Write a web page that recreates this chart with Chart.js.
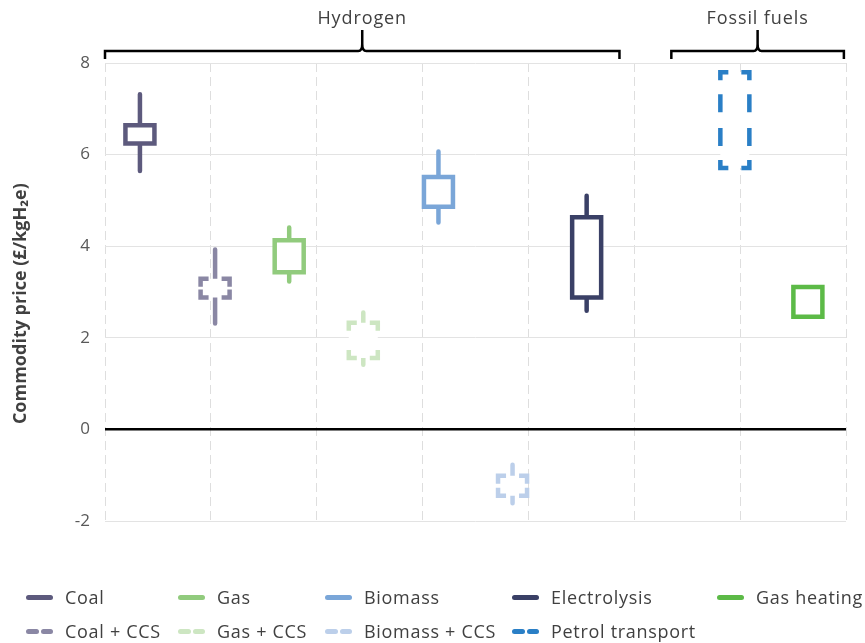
<!DOCTYPE html>
<html>
<head>
<meta charset="utf-8">
<script src="https://cdn.jsdelivr.net/npm/chart.js@4.4.1/dist/chart.umd.min.js"></script>
<style>
  html, body { margin: 0; padding: 0; background: #fff; }
  #wrap { position: relative; width: 865px; height: 643px; font-family: "Open Sans", sans-serif; }
  #legend { position: absolute; left: 0; top: 0; width: 865px; height: 643px; pointer-events: none; }
  .item { position: absolute; height: 24px; display: flex; align-items: center; color: #404040; font-size: 18px; letter-spacing: 0.7px; white-space: nowrap; }
  .mark { display: inline-block; width: 27px; height: 5px; margin-right: 12px; position: relative; }
  .mark span { position: absolute; top: 0; height: 5px; border-radius: 3px; }
</style>
</head>
<body>
<div id="wrap">
  <canvas id="chart" width="865" height="643"></canvas>
  <div id="legend"></div>
</div>
<script>
// series, left to right
const seriesNames = ['Coal', 'Coal + CCS', 'Gas', 'Gas + CCS', 'Biomass', 'Biomass + CCS', 'Electrolysis', 'Petrol transport', 'Gas heating'];
const xPositions  = [0.33, 1.04, 1.74, 2.44, 3.15, 3.85, 4.55, 5.95, 6.64];
const highs       = [7.32, 3.93, 4.41, 2.55, 6.07, -0.77, 5.10, null, null];
const boxTops     = [6.64, 3.29, 4.13, 2.33, 5.51, -1.01, 4.63, 7.80, 3.11];
const boxBottoms  = [6.24, 2.88, 3.43, 1.56, 4.86, -1.45, 2.88, 5.71, 2.46];
const lows        = [5.64, 2.31, 3.23, 1.41, 4.52, -1.61, 2.59, null, null];
const colors      = ['#5d5a7d', '#8a87a4', '#91cb7d', '#cde6c2', '#7aa6d8', '#bccfea', '#3a4066', '#2a7fc6', '#5cba47'];
const dashed      = [false, true, false, true, false, true, false, true, false];

// group brackets along the top
const groupLabels = ['Hydrogen', 'Fossil fuels'];
const groupStarts = [0, 5.35];
const groupEnds   = [4.86, 6.98];

const yTicks = [-2, 0, 2, 4, 6, 8];

// legend layout (row / column for each series)
const legendRows = [0, 1, 0, 1, 0, 1, 0, 1, 0];
const legendCols = [0, 0, 1, 1, 2, 2, 3, 3, 4];
const colLeft = [26, 178, 325, 512, 717];
const rowTop = [585, 619];

const BOX_HALF = 0.137;   // half box width in x units
const LINE_W = 4.5;

const datasets = [];
seriesNames.forEach((name, i) => {
  const x = xPositions[i];
  const l = x - BOX_HALF, r = x + BOX_HALF;
  const t = boxTops[i], b = boxBottoms[i];
  const m = (t + b) / 2;
  if (highs[i] !== null) {
    datasets.push({
      label: name + ' range',
      data: [{x: x, y: highs[i]}, {x: x, y: lows[i]}],
      borderColor: colors[i],
      borderWidth: LINE_W,
      borderCapStyle: 'round',
      pointRadius: 0,
      fill: false,
      order: 2
    });
  }
  const rect = [{x: l, y: t}, {x: r, y: t}, {x: r, y: b}, {x: l, y: b}, {x: l, y: t}];
  if (!dashed[i]) {
    datasets.push({
      label: name,
      data: rect,
      borderColor: colors[i],
      backgroundColor: '#ffffff',
      borderWidth: LINE_W,
      borderCapStyle: 'square',
      borderJoinStyle: 'miter',
      pointRadius: 0,
      fill: 'shape',
      order: 0
    });
  } else {
    // white body
    datasets.push({
      label: name + ' body',
      data: rect,
      borderColor: 'rgba(0,0,0,0)',
      backgroundColor: '#ffffff',
      borderWidth: 1,
      pointRadius: 0,
      fill: 'shape',
      order: 1
    });
    // dashed outline: each half-edge starts at a corner so the dashes sit on the corners
    const gap = {x: x, y: null};
    const edges = [
      [{x: l, y: t}, {x: x, y: t}], [{x: r, y: t}, {x: x, y: t}],
      [{x: r, y: t}, {x: r, y: m}], [{x: r, y: b}, {x: r, y: m}],
      [{x: r, y: b}, {x: x, y: b}], [{x: l, y: b}, {x: x, y: b}],
      [{x: l, y: b}, {x: l, y: m}], [{x: l, y: t}, {x: l, y: m}]
    ];
    const pts = [];
    edges.forEach((e, k) => { if (k) pts.push(gap); pts.push(e[0], e[1]); });
    datasets.push({
      label: name,
      data: pts,
      borderColor: colors[i],
      borderWidth: LINE_W,
      borderCapStyle: 'square',
      borderDash: [13.5, 18.5],
      borderDashOffset: 7.75,
      spanGaps: false,
      pointRadius: 0,
      fill: false,
      order: 0
    });
  }
});

// brackets + group labels above the plot
const bracketPlugin = {
  id: 'brackets',
  afterDraw(chart) {
    const ctx = chart.ctx;
    const xs = chart.scales.x;
    const yLine = 51, yEnd = 59, yTip = 30;
    ctx.save();
    ctx.strokeStyle = '#000';
    ctx.lineWidth = 2.5;
    ctx.lineJoin = 'miter';
    groupLabels.forEach((lbl, g) => {
      const l = xs.getPixelForValue(groupStarts[g]);
      const r = xs.getPixelForValue(groupEnds[g]);
      const c = (l + r) / 2;
      ctx.beginPath();
      ctx.moveTo(l, yEnd);
      ctx.lineTo(l, yLine);
      ctx.lineTo(c - 4, yLine);
      ctx.quadraticCurveTo(c, yLine, c, yLine - 7);
      ctx.lineTo(c, yTip);
      ctx.moveTo(c, yLine - 7);
      ctx.quadraticCurveTo(c, yLine, c + 4, yLine);
      ctx.lineTo(r, yLine);
      ctx.lineTo(r, yEnd);
      ctx.stroke();
      ctx.fillStyle = '#404040';
      ctx.font = '18px "Open Sans"';
      ctx.letterSpacing = '0.9px';
      ctx.textAlign = 'center';
      ctx.textBaseline = 'middle';
      ctx.fillText(lbl, c, 19);
    });
    ctx.restore();
  }
};

new Chart(document.getElementById('chart'), {
  type: 'line',
  data: { datasets: datasets },
  options: {
    responsive: false,
    animation: false,
    devicePixelRatio: 1,
    layout: { padding: { top: 63, right: 19, bottom: 122, left: 0 } },
    plugins: { legend: { display: false }, tooltip: { enabled: false } },
    scales: {
      x: {
        type: 'linear',
        min: 0,
        max: 7,
        ticks: { display: false, stepSize: 1 },
        grid: { color: '#dedede', lineWidth: 1, drawTicks: false },
        border: { display: false, dash: [9, 5] },
        afterFit: s => { s.height = 0; }
      },
      y: {
        min: -2,
        max: 8,
        afterBuildTicks: s => { s.ticks = yTicks.map(v => ({value: v})); },
        ticks: { color: '#595959', font: { family: 'Open Sans', size: 17 }, padding: 15 },
        grid: {
          drawTicks: false,
          color: c => c.tick && c.tick.value === 0 ? '#000000' : '#e3e3e3',
          lineWidth: c => c.tick && c.tick.value === 0 ? 2.5 : 1
        },
        border: { display: false },
        title: {
          display: true,
          // trailing spaces nudge the rotated title down a little, as in the original
          text: 'Commodity price (£/kgH₂e)\u00a0\u00a0\u00a0\u00a0\u00a0',
          color: '#404040',
          font: { family: 'Open Sans', size: 18, weight: 'bold' },
          padding: { top: 10 }
        },
        afterFit: s => { s.width = 105; }
      }
    }
  },
  plugins: [bracketPlugin]
});

// HTML legend with column alignment
const legend = document.getElementById('legend');
seriesNames.forEach((name, i) => {
  const item = document.createElement('div');
  item.className = 'item';
  item.style.left = colLeft[legendCols[i]] + 'px';
  item.style.top = rowTop[legendRows[i]] + 'px';
  const mark = document.createElement('span');
  mark.className = 'mark';
  const pieces = dashed[i] ? [[0, 12.5], [14.5, 12.5]] : [[0, 27]];
  pieces.forEach(p => {
    const s = document.createElement('span');
    s.style.left = p[0] + 'px';
    s.style.width = p[1] + 'px';
    s.style.background = colors[i];
    mark.appendChild(s);
  });
  item.appendChild(mark);
  item.appendChild(document.createTextNode(name));
  legend.appendChild(item);
});
</script>
</body>
</html>
